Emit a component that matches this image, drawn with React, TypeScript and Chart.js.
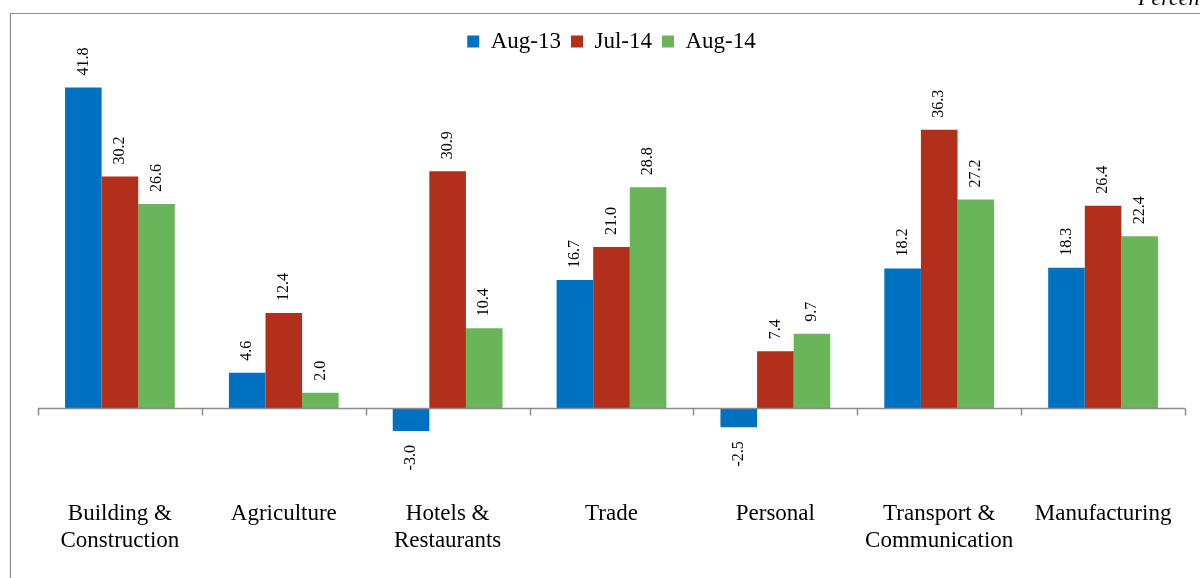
import React, { useEffect, useRef } from "react";
import { Chart, registerables } from "chart.js";

Chart.register(...registerables);

const categories: string[][] = [
  ["Building &", "Construction"],
  ["Agriculture"],
  ["Hotels &", "Restaurants"],
  ["Trade"],
  ["Personal"],
  ["Transport &", "Communication"],
  ["Manufacturing"],
];
const seriesNames = ["Aug-13", "Jul-14", "Aug-14"];
const aug13 = [41.8, 4.6, -3.0, 16.7, -2.5, 18.2, 18.3];
const jul14 = [30.2, 12.4, 30.9, 21.0, 7.4, 36.3, 26.4];
const aug14 = [26.6, 2.0, 10.4, 28.8, 9.7, 27.2, 22.4];
const colors = ["#0070C0", "#B22F1C", "#6AB559"];
const unitLabel = "Percent";

const FONT = "'Liberation Serif', 'Times New Roman', serif";

const framePlugin = {
  id: "frame",
  beforeDraw(chart: any) {
    const ctx = chart.ctx;
    ctx.save();
    ctx.strokeStyle = "#8c8c8c";
    ctx.lineWidth = 1.2;
    ctx.beginPath();
    ctx.moveTo(10.5, chart.height + 5);
    ctx.lineTo(10.5, 13.5);
    ctx.lineTo(chart.width + 5, 13.5);
    ctx.stroke();
    ctx.font = `italic 22px ${FONT}`;
    ctx.fillStyle = "#000";
    ctx.textBaseline = "alphabetic";
    ctx.textAlign = "left";
    ctx.fillText(unitLabel, 1138, 5);
    ctx.restore();
  },
};

const baselinePlugin = {
  id: "baseline",
  afterDatasetsDraw(chart: any) {
    const ctx = chart.ctx;
    const { left, right } = chart.chartArea;
    const y = Math.round(chart.scales.y.getPixelForValue(0)) + 0.5;
    const n = categories.length;
    ctx.save();
    ctx.strokeStyle = "#8c8c8c";
    ctx.lineWidth = 1.5;
    ctx.beginPath();
    ctx.moveTo(left, y);
    ctx.lineTo(right, y);
    for (let i = 0; i <= n; i++) {
      const x = Math.round(left + ((right - left) * i) / n) + 0.5;
      ctx.moveTo(x, y);
      ctx.lineTo(x, y + 7);
    }
    ctx.stroke();
    ctx.restore();
  },
};

const labelPlugin = {
  id: "barLabels",
  afterDatasetsDraw(chart: any) {
    const ctx = chart.ctx;
    ctx.save();
    ctx.font = `16px ${FONT}`;
    ctx.fillStyle = "#000";
    ctx.textBaseline = "middle";
    chart.data.datasets.forEach((ds: any, di: number) => {
      const meta = chart.getDatasetMeta(di);
      meta.data.forEach((bar: any, i: number) => {
        const v = ds.data[i];
        const txt = v.toFixed(1);
        ctx.save();
        if (v >= 0) {
          ctx.translate(bar.x, bar.y - 12);
          ctx.rotate(-Math.PI / 2);
          ctx.textAlign = "left";
        } else {
          ctx.translate(bar.x, bar.y + 14);
          ctx.rotate(-Math.PI / 2);
          ctx.textAlign = "right";
        }
        ctx.fillText(txt, 0, 0);
        ctx.restore();
      });
    });
    ctx.restore();
  },
};

export default function App() {
  const ref = useRef<HTMLCanvasElement | null>(null);
  useEffect(() => {
    if (!ref.current) return;
    const chart = new Chart(ref.current, {
      type: "bar",
      data: {
        labels: categories,
        datasets: [aug13, jul14, aug14].map((d, i) => ({
          label: seriesNames[i],
          data: d,
          backgroundColor: colors[i],
          borderWidth: 0,
          categoryPercentage: 0.67,
          barPercentage: 1,
        })),
      },
      options: {
        animation: false,
        responsive: false,
        maintainAspectRatio: false,
        layout: { padding: { left: 38, right: 15, top: 20, bottom: 16 } },
        plugins: {
          legend: {
            position: "top",
            labels: {
              boxWidth: 12,
              boxHeight: 12,
              padding: 10,
              color: "#000",
              font: { family: FONT, size: 23 },
            },
          },
          tooltip: { enabled: false },
        },
        scales: {
          x: {
            grid: { display: false },
            border: { display: false },
            ticks: {
              color: "#000",
              font: { family: FONT, size: 23 },
              maxRotation: 0,
              autoSkip: false,
              padding: 7,
            },
          },
          y: {
            display: false,
            min: -10,
            max: 45,
          },
        },
      },
      plugins: [framePlugin, baselinePlugin, labelPlugin],
    });
    return () => chart.destroy();
  }, []);
  return (
    <div style={{ position: "fixed", left: 0, top: 0, width: 1200, height: 578, background: "#fff" }}>
      <canvas ref={ref} width={1200} height={578} style={{ display: "block" }} />
    </div>
  );
}
